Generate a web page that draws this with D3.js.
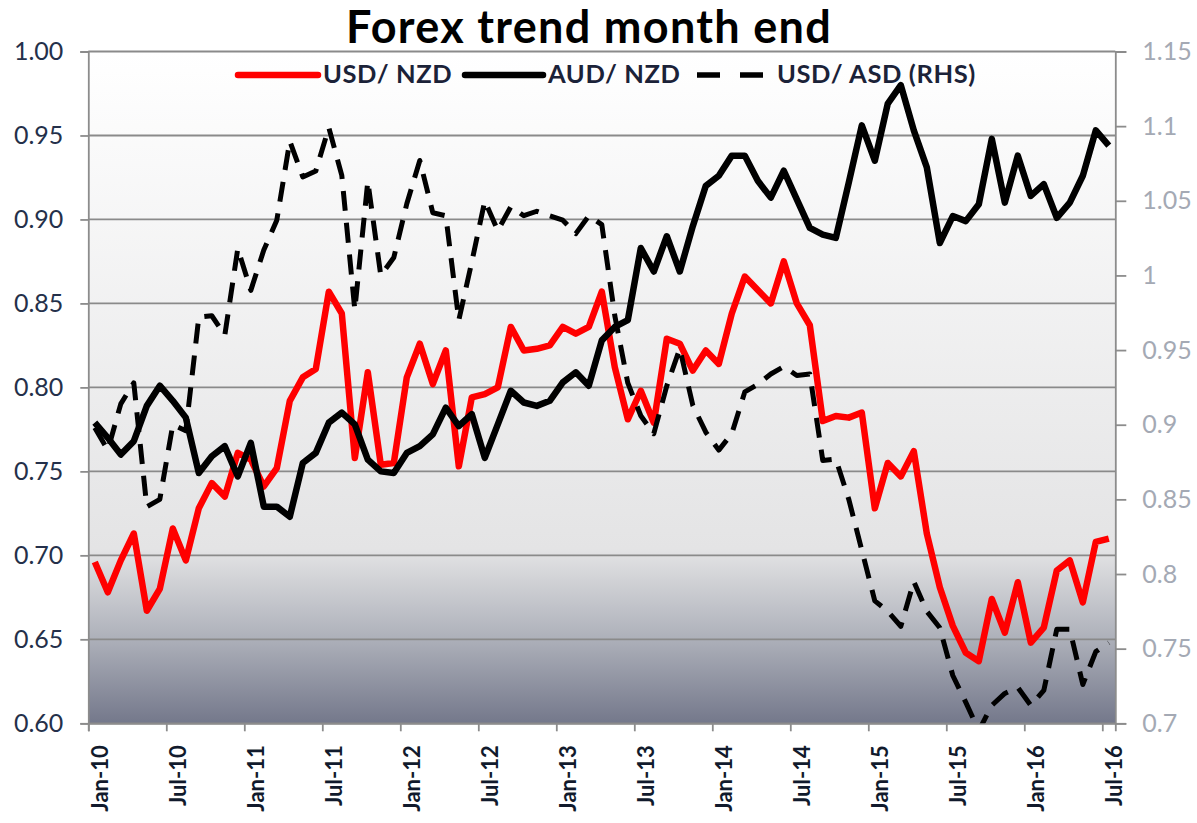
<!DOCTYPE html>
<html lang="en">
<head>
<meta charset="utf-8">
<script src="https://cdn.jsdelivr.net/npm/d3@7"></script>
<style>
  body { margin: 0; background: #fff; }
  svg text { font-family: Lato, "Open Sans", sans-serif; }
</style>
</head>
<body>
<div id="chart"></div>
<script>
// monthly categories, Jan-10 .. Jul-16
var months = d3.timeMonths(new Date(2010, 0, 1), new Date(2016, 7, 1)).map(d3.timeFormat("%b-%y"));

var tickLabels = ["Jan-10", "Jul-10", "Jan-11", "Jul-11", "Jan-12", "Jul-12", "Jan-13",
                  "Jul-13", "Jan-14", "Jul-14", "Jan-15", "Jul-15", "Jan-16", "Jul-16"];
var leftTicks = [0.60, 0.65, 0.70, 0.75, 0.80, 0.85, 0.90, 0.95, 1.00];
var rightTicks = [0.7, 0.75, 0.8, 0.85, 0.9, 0.95, 1, 1.05, 1.1, 1.15];

var usdNzd = [0.696, 0.678, 0.697, 0.713, 0.667, 0.680, 0.716, 0.697, 0.728, 0.743,
              0.735, 0.761, 0.757, 0.741, 0.752, 0.792, 0.806, 0.811, 0.857, 0.844,
              0.758, 0.809, 0.754, 0.755, 0.806, 0.826, 0.802, 0.822, 0.753, 0.794,
              0.796, 0.800, 0.836, 0.822, 0.823, 0.825, 0.836, 0.832, 0.836, 0.857,
              0.812, 0.781, 0.798, 0.779, 0.829, 0.826, 0.810, 0.822, 0.814, 0.844,
              0.866, 0.858, 0.850, 0.875, 0.850, 0.837, 0.780, 0.783, 0.782, 0.785,
              0.728, 0.755, 0.747, 0.762, 0.713, 0.681, 0.658, 0.642, 0.637, 0.674,
              0.654, 0.684, 0.648, 0.657, 0.691, 0.697, 0.672, 0.708, 0.710];

var audNzd = [0.779, 0.770, 0.760, 0.768, 0.789, 0.801, 0.792, 0.782, 0.749, 0.759,
              0.765, 0.747, 0.767, 0.729, 0.729, 0.723, 0.755, 0.761, 0.779, 0.785,
              0.778, 0.757, 0.750, 0.749, 0.761, 0.765, 0.772, 0.788, 0.777, 0.784,
              0.758, 0.778, 0.798, 0.791, 0.789, 0.792, 0.803, 0.809, 0.801, 0.828,
              0.836, 0.840, 0.883, 0.869, 0.890, 0.869, 0.896, 0.920, 0.926, 0.938,
              0.938, 0.923, 0.913, 0.929, 0.912, 0.895, 0.891, 0.889, 0.922, 0.956,
              0.935, 0.969, 0.980, 0.953, 0.931, 0.886, 0.902, 0.899, 0.909, 0.948,
              0.910, 0.938, 0.914, 0.921, 0.901, 0.910, 0.926, 0.953, 0.944];

// right hand scale
var usdAsd = [0.898, 0.883, 0.914, 0.928, 0.845, 0.850, 0.900, 0.896, 0.972, 0.973,
              0.960, 1.018, 0.990, 1.017, 1.037, 1.090, 1.066, 1.070, 1.099, 1.067,
              0.977, 1.063, 1.000, 1.012, 1.048, 1.077, 1.042, 1.040, 0.970, 1.009,
              1.050, 1.030, 1.046, 1.040, 1.043, 1.040, 1.037, 1.028, 1.040, 1.034,
              0.973, 0.928, 0.906, 0.894, 0.926, 0.951, 0.913, 0.895, 0.883, 0.894,
              0.922, 0.927, 0.934, 0.939, 0.933, 0.934, 0.876, 0.877, 0.850, 0.816,
              0.782, 0.775, 0.765, 0.795, 0.775, 0.764, 0.732, 0.714, 0.695, 0.712,
              0.720, 0.724, 0.712, 0.722, 0.763, 0.763, 0.726, 0.748, 0.754];

var W = 1197, H = 823;
var plot = {left: 88.3, right: 1115.3, top: 51.5, bottom: 723.3};

var svg = d3.select("#chart").append("svg")
    .attr("width", W)
    .attr("height", H);

var x = d3.scaleLinear()
    .domain([0, months.length])
    .range([plot.left, plot.right]);
var yL = d3.scaleLinear()
    .domain([0.60, 1.00])
    .range([plot.bottom, plot.top]);
var yR = d3.scaleLinear()
    .domain([0.70, 1.15])
    .range([plot.bottom, plot.top]);

// background gradient of the plot area
var defs = svg.append("defs");
var grad = defs.append("linearGradient")
    .attr("id", "bg")
    .attr("x1", 0).attr("y1", 0).attr("x2", 0).attr("y2", 1);
grad.append("stop").attr("offset", "0%").attr("stop-color", "#ffffff");
grad.append("stop").attr("offset", "74%").attr("stop-color", "#e4e4e5");
grad.append("stop").attr("offset", "87%").attr("stop-color", "#afb2bb");
grad.append("stop").attr("offset", "100%").attr("stop-color", "#74788b");

defs.append("clipPath").attr("id", "clip")
  .append("rect")
    .attr("x", plot.left).attr("y", plot.top)
    .attr("width", plot.right - plot.left)
    .attr("height", plot.bottom - plot.top);

svg.append("rect")
    .attr("x", plot.left).attr("y", plot.top)
    .attr("width", plot.right - plot.left)
    .attr("height", plot.bottom - plot.top)
    .attr("fill", "url(#bg)");

// gridlines
svg.append("g")
  .selectAll("line")
  .data(leftTicks)
  .enter().append("line")
    .attr("x1", plot.left).attr("x2", plot.right)
    .attr("y1", function(d) { return yL(d); })
    .attr("y2", function(d) { return yL(d); })
    .attr("stroke", "#8a8a8a")
    .attr("stroke-width", 1.8);

// axes
var axisColor = "#8c8c8c";

var gl = svg.append("g")
    .attr("transform", "translate(" + plot.left + ",0)")
    .call(d3.axisLeft(yL).tickValues(leftTicks).tickFormat(d3.format(".2f")).tickSize(8).tickPadding(17));
gl.selectAll("text").attr("font-size", 25).attr("fill", "#24304a");

var gr = svg.append("g")
    .attr("transform", "translate(" + plot.right + ",0)")
    .call(d3.axisRight(yR).tickValues(rightTicks)
          .tickFormat(function(d) { return String(+d.toFixed(2)); })
          .tickSize(11).tickPadding(16));
gr.selectAll("text").attr("font-size", 25).attr("fill", "#a4a9b4");

var gx = svg.append("g")
    .attr("transform", "translate(0," + plot.bottom + ")")
    .call(d3.axisBottom(x).tickValues(d3.range(0, months.length, 6))
          .tickFormat(function(d, i) { return tickLabels[i]; })
          .tickSize(8));
gx.selectAll("text")
    .attr("font-size", 22)
    .attr("font-weight", "bold")
    .attr("fill", "#111a2c")
    .attr("text-anchor", "end")
    .attr("transform", "translate(0,22) rotate(-90)")
    .attr("x", 0)
    .attr("y", 0)
    .attr("dy", "0.85em");

[gl, gr, gx].forEach(function(g) {
    g.selectAll("path, line").attr("stroke", axisColor).attr("stroke-width", 1.8);
    g.selectAll("text").style("font-family", "Lato, 'Open Sans', sans-serif");
});

// series
var lines = svg.append("g").attr("clip-path", "url(#clip)");

var lineL = d3.line()
    .x(function(d, i) { return x(i + 0.5); })
    .y(function(d) { return yL(d); });
var lineR = d3.line()
    .x(function(d, i) { return x(i + 0.5); })
    .y(function(d) { return yR(d); });

lines.append("path")
    .datum(usdNzd)
    .attr("d", lineL)
    .attr("fill", "none")
    .attr("stroke", "#ff0000")
    .attr("stroke-width", 6.5)
    .attr("stroke-linejoin", "round");

lines.append("path")
    .datum(audNzd)
    .attr("d", lineL)
    .attr("fill", "none")
    .attr("stroke", "#000000")
    .attr("stroke-width", 6.5)
    .attr("stroke-linejoin", "round");

lines.append("path")
    .datum(usdAsd)
    .attr("d", lineR)
    .attr("fill", "none")
    .attr("stroke", "#000000")
    .attr("stroke-width", 5)
    .attr("stroke-dasharray", "20,12")
    .attr("stroke-linejoin", "round");

// legend
var legendItems = [
    {name: "USD/ NZD", x0: 238, x1: 318, tx: 323, color: "#ff0000", width: 6.5, dash: null},
    {name: "AUD/ NZD", x0: 465, x1: 543, tx: 548, color: "#000000", width: 6.5, dash: null},
    {name: "USD/ ASD (RHS)", x0: 697, x1: 763, tx: 777, color: "#000000", width: 5.5, dash: "23,20"}
];
var legend = svg.append("g");
legendItems.forEach(function(d) {
    legend.append("line")
        .attr("x1", d.x0).attr("x2", d.x1)
        .attr("y1", 75).attr("y2", 75)
        .attr("stroke", d.color)
        .attr("stroke-width", d.width)
        .attr("stroke-linecap", d.dash ? "butt" : "round")
        .attr("stroke-dasharray", d.dash);
    legend.append("text")
        .attr("x", d.tx)
        .attr("y", 83)
        .attr("font-size", 25.5)
        .attr("font-weight", "bold")
        .attr("letter-spacing", 0.6)
        .attr("fill", "#1b2238")
        .text(d.name);
});

// title
svg.append("text")
    .attr("x", 589)
    .attr("y", 43)
    .attr("text-anchor", "middle")
    .attr("font-size", 45)
    .attr("font-weight", "bold")
    .attr("letter-spacing", 1.3)
    .attr("fill", "#000")
    .text("Forex trend month end");
</script>
</body>
</html>
